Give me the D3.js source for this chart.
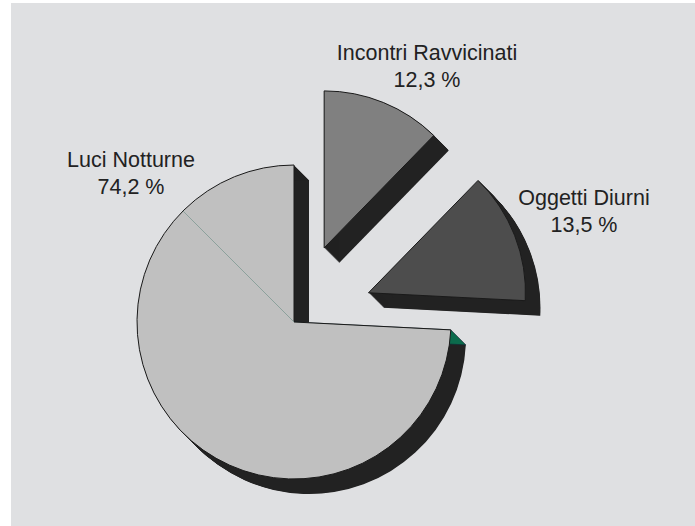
<!DOCTYPE html>
<html>
<head>
<meta charset="utf-8">
<script src="https://cdn.jsdelivr.net/npm/d3@7"></script>
<style>
  html, body { margin: 0; padding: 0; background: #ffffff; }
  svg { display: block; }
  text { font-family: "Liberation Sans", Arial, sans-serif; fill: #222222; }
</style>
</head>
<body>
<svg id="chart" width="695" height="526"></svg>
<script>
// Categories, shares (%) and printed labels
const categories = ["Incontri Ravvicinati", "Oggetti Diurni", "Luci Notturne"];
const values = [12.3, 13.5, 74.2];
const valueLabels = ["12,3 %", "13,5 %", "74,2 %"];
const exploded = [true, true, false];
const faceColors = ["#808080", "#4d4d4d", "#c0c0c0"];

const W = 695, H = 526;
const cx = 294, cy = 322, R = 157;
const explodeDist = 80;
const depth = 15;            // extrusion offset (down-right)
const shadowColor = "#222222";
const sideColor = "#0b6b4c"; // radial side face of the big slice
const seamAngleDeg = 315;    // faint seam across the big slice

const svg = d3.select("#chart");

// panel background
svg.append("rect").attr("x", 11).attr("y", 3).attr("width", W - 11).attr("height", H - 3)
  .attr("fill", "#dfe0e2");

const pie = d3.pie().sort(null).value(d => d.value).startAngle(0).endAngle(2 * Math.PI);
const arcs = pie(categories.map((c, i) => ({ name: c, value: values[i], label: valueLabels[i], exploded: exploded[i], color: faceColors[i] })));
const arc = d3.arc().innerRadius(0).outerRadius(R);

const pt = (a, r) => [r * Math.sin(a), -r * Math.cos(a)];

arcs.forEach(d => {
  const mid = (d.startAngle + d.endAngle) / 2;
  const off = d.data.exploded ? pt(mid, explodeDist) : [0, 0];
  d.ox = cx + off[0];
  d.oy = cy + off[1];
});

const g = svg.append("g");

// extrusion: stacked copies of each slice shifted toward the depth offset
arcs.forEach(d => {
  const sg = g.append("g").attr("transform", `translate(${d.ox},${d.oy})`);
  for (let k = 1; k <= depth * 2; k++) {
    const s = k / 2;
    sg.append("path").attr("d", arc(d)).attr("transform", `translate(${s},${s})`)
      .attr("fill", shadowColor);
  }
});

// side face on the start edge of the big slice
arcs.filter(d => !d.data.exploded).forEach(d => {
  const p = pt(d.startAngle, R);
  const poly = [[0, 0], p, [p[0] + depth, p[1] + depth], [depth, depth]];
  g.append("path")
    .attr("transform", `translate(${d.ox},${d.oy})`)
    .attr("d", d3.line()(poly) + "Z")
    .attr("fill", sideColor).attr("stroke", "#123").attr("stroke-width", 0.6);
});

// top faces
arcs.forEach(d => {
  const fg = g.append("g").attr("transform", `translate(${d.ox},${d.oy})`);
  fg.append("path").attr("d", arc(d))
    .attr("fill", d.data.color)
    .attr("stroke", "#1a1a1a").attr("stroke-width", 1).attr("stroke-linejoin", "miter");
  if (!d.data.exploded) {
    const p = pt(seamAngleDeg * Math.PI / 180, R);
    fg.append("line").attr("x1", 0).attr("y1", 0).attr("x2", p[0]).attr("y2", p[1])
      .attr("stroke", "#7f9993").attr("stroke-width", 0.8);
  }
});

// labels
const labelPos = {
  "Incontri Ravvicinati": [427, 60],
  "Oggetti Diurni": [584, 205],
  "Luci Notturne": [131, 167]
};
arcs.forEach(d => {
  const [lx, ly] = labelPos[d.data.name];
  const t = svg.append("text").attr("text-anchor", "middle").attr("font-size", 21.5);
  t.append("tspan").attr("x", lx).attr("y", ly).text(d.data.name);
  t.append("tspan").attr("x", lx).attr("y", ly + 27).text(d.data.label);
});
</script>
</body>
</html>
